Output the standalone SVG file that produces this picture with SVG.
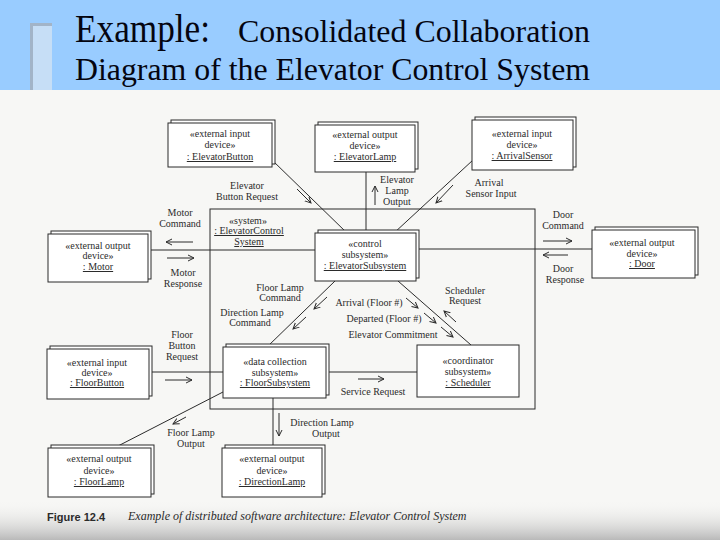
<svg xmlns="http://www.w3.org/2000/svg" width="720" height="540" viewBox="0 0 720 540">
<defs>
<style>
.box{fill:#fff;stroke:#2b2b2b;stroke-width:1}
.ln{stroke:#2b2b2b;stroke-width:1;fill:none}
.ar{stroke:#2b2b2b;stroke-width:1;fill:none;marker-end:url(#ah)}
.t{font-family:"Liberation Serif","Times New Roman",serif;font-size:10px;fill:#2b2b2b;text-anchor:middle}
.u{text-decoration:underline}
.title{font-family:"Liberation Serif","Times New Roman",serif;fill:#050510}
</style>
<marker id="ah" markerWidth="8" markerHeight="8" refX="6" refY="4" orient="auto" markerUnits="userSpaceOnUse">
<path d="M0,1 L6,4 L0,7" fill="none" stroke="#2b2b2b" stroke-width="1"/>
</marker>
<linearGradient id="bot" x1="0" y1="0" x2="0" y2="1">
<stop offset="0" stop-color="#f6f6f4" stop-opacity="0"/>
<stop offset="1" stop-color="#b9b9b9"/>
</linearGradient>
</defs>

<!-- page -->
<rect x="0" y="0" width="720" height="540" fill="#f7f7f5"/>
<rect x="0" y="500" width="720" height="40" fill="url(#bot)"/>

<!-- header -->
<g id="header">
<rect x="0" y="0" width="720" height="90" fill="#99ccff"/>
<rect x="30" y="23" width="22" height="67" fill="#c6def6"/>
<path d="M31.5,90 V24.5 H52" fill="none" stroke="#a2b4c8" stroke-width="3"/>
<text class="title" x="75" y="42" font-size="40" textLength="135" lengthAdjust="spacingAndGlyphs">Example:</text>
<text class="title" x="238" y="42" font-size="31" textLength="352" lengthAdjust="spacingAndGlyphs">Consolidated Collaboration</text>
<text class="title" x="75" y="80" font-size="31" textLength="515" lengthAdjust="spacingAndGlyphs">Diagram of the Elevator Control System</text>
</g>

<!-- system box -->
<g id="system">
<rect x="210" y="209" width="325" height="200" class="box" style="fill:none"/>
<text class="t" x="248" y="224">«system»</text>
<text class="t u" x="249" y="234">: ElevatorControl</text>
<text class="t u" x="249" y="245">System</text>
</g>

<!-- connectors -->
<g id="connectors">
<line class="ln" x1="272" y1="160" x2="347" y2="233"/>
<line class="ar" x1="297" y1="189" x2="311" y2="203"/>
<line class="ln" x1="366" y1="172" x2="366" y2="233"/>
<line class="ar" x1="375" y1="205" x2="375" y2="186"/>
<line class="ln" x1="473" y1="160" x2="394" y2="233"/>
<line class="ar" x1="453" y1="185" x2="436" y2="203"/>
<line class="ln" x1="148" y1="250" x2="315" y2="250"/>
<line class="ar" x1="193" y1="242" x2="166" y2="242"/>
<line class="ar" x1="167" y1="258" x2="194" y2="258"/>
<line class="ln" x1="416" y1="249" x2="592" y2="249"/>
<line class="ar" x1="543" y1="241" x2="572" y2="241"/>
<line class="ar" x1="568" y1="255" x2="543" y2="255"/>
<line class="ln" x1="335" y1="281" x2="267" y2="347"/>
<line class="ar" x1="327" y1="297" x2="314" y2="309"/>
<line class="ar" x1="306" y1="317" x2="293" y2="329"/>
<line class="ln" x1="398" y1="281" x2="471" y2="345"/>
<line class="ar" x1="406" y1="298" x2="418" y2="308"/>
<line class="ar" x1="424" y1="313" x2="436" y2="323"/>
<line class="ar" x1="441" y1="327" x2="453" y2="337"/>
<line class="ar" x1="456" y1="322" x2="444" y2="311"/>
<line class="ln" x1="150" y1="372" x2="223" y2="372"/>
<line class="ar" x1="165" y1="380" x2="192" y2="380"/>
<line class="ln" x1="326" y1="372" x2="417" y2="372"/>
<line class="ar" x1="358" y1="379" x2="384" y2="379"/>
<line class="ln" x1="223" y1="392" x2="118" y2="446"/>
<line class="ar" x1="186" y1="417" x2="173" y2="424"/>
<line class="ln" x1="273" y1="398" x2="273" y2="448"/>
<line class="ar" x1="279" y1="413" x2="279" y2="436"/>

<text class="t" x="247" y="189">Elevator</text>
<text class="t" x="247" y="200">Button Request</text>
<text class="t" x="397" y="183">Elevator</text>
<text class="t" x="397" y="194">Lamp</text>
<text class="t" x="397" y="205">Output</text>
<text class="t" x="489" y="186">Arrival</text>
<text class="t" x="491" y="197">Sensor Input</text>
<text class="t" x="180" y="216">Motor</text>
<text class="t" x="180" y="227">Command</text>
<text class="t" x="183" y="276">Motor</text>
<text class="t" x="183" y="287">Response</text>
<text class="t" x="563" y="218">Door</text>
<text class="t" x="563" y="229">Command</text>
<text class="t" x="563" y="272">Door</text>
<text class="t" x="565" y="283">Response</text>
<text class="t" x="280" y="291">Floor Lamp</text>
<text class="t" x="280" y="301">Command</text>
<text class="t" x="252" y="316">Direction Lamp</text>
<text class="t" x="250" y="326">Command</text>
<text class="t" x="369" y="306">Arrival (Floor #)</text>
<text class="t" x="384" y="322">Departed (Floor #)</text>
<text class="t" x="393" y="338">Elevator Commitment</text>
<text class="t" x="465" y="294">Scheduler</text>
<text class="t" x="465" y="304">Request</text>
<text class="t" x="182" y="338">Floor</text>
<text class="t" x="182" y="349">Button</text>
<text class="t" x="182" y="360">Request</text>
<text class="t" x="373" y="395">Service Request</text>
<text class="t" x="191" y="436">Floor Lamp</text>
<text class="t" x="191" y="447">Output</text>
<text class="t" x="322" y="426">Direction Lamp</text>
<text class="t" x="326" y="437">Output</text>
</g>

<!-- nodes -->
<g id="elevatorButton">
<rect class="box" x="171" y="120" width="104" height="44"/>
<rect class="box" x="168" y="123" width="104" height="44"/>
<text class="t" x="220" y="137">«external input</text>
<text class="t" x="220" y="148">device»</text>
<text class="t u" x="220" y="160">: ElevatorButton</text>
</g>
<g id="elevatorLamp">
<rect class="box" x="318" y="122" width="100" height="47"/>
<rect class="box" x="315" y="125" width="100" height="47"/>
<text class="t" x="365" y="138">«external output</text>
<text class="t" x="365" y="149">device»</text>
<text class="t u" x="365" y="160">: ElevatorLamp</text>
</g>
<g id="arrivalSensor">
<rect class="box" x="475" y="117" width="101" height="50"/>
<rect class="box" x="472" y="120" width="101" height="50"/>
<text class="t" x="522" y="137">«external input</text>
<text class="t" x="522" y="148">device»</text>
<text class="t u" x="522" y="159">: ArrivalSensor</text>
</g>
<g id="motor">
<rect class="box" x="51" y="231" width="100" height="48"/>
<rect class="box" x="48" y="234" width="100" height="48"/>
<text class="t" x="98" y="249">«external output</text>
<text class="t" x="98" y="259">device»</text>
<text class="t u" x="98" y="270">: Motor</text>
</g>
<g id="elevatorSubsystem">
<rect class="box" x="318" y="230" width="101" height="48"/>
<rect class="box" x="315" y="233" width="101" height="48"/>
<text class="t" x="365" y="247">«control</text>
<text class="t" x="365" y="258">subsystem»</text>
<text class="t u" x="365" y="269">: ElevatorSubsystem</text>
</g>
<g id="door">
<rect class="box" x="595" y="227" width="103" height="48"/>
<rect class="box" x="592" y="230" width="103" height="48"/>
<text class="t" x="642" y="246">«external output</text>
<text class="t" x="642" y="257">device»</text>
<text class="t u" x="642" y="267">: Door</text>
</g>
<g id="floorButton">
<rect class="box" x="50" y="346" width="102" height="50"/>
<rect class="box" x="47" y="349" width="102" height="50"/>
<text class="t" x="97" y="366">«external input</text>
<text class="t" x="97" y="376">device»</text>
<text class="t u" x="97" y="386">: FloorButton</text>
</g>
<g id="floorSubsystem">
<rect class="box" x="226" y="344" width="103" height="51"/>
<rect class="box" x="223" y="347" width="103" height="51"/>
<text class="t" x="275" y="365">«data collection</text>
<text class="t" x="275" y="376">subsystem»</text>
<text class="t u" x="275" y="386">: FloorSubsystem</text>
</g>
<g id="scheduler">
<rect class="box" x="417" y="345" width="102" height="52"/>
<text class="t" x="468" y="364">«coordinator</text>
<text class="t" x="468" y="375">subsystem»</text>
<text class="t u" x="468" y="386">: Scheduler</text>
</g>
<g id="floorLamp">
<rect class="box" x="51" y="445" width="103" height="49"/>
<rect class="box" x="48" y="448" width="103" height="49"/>
<text class="t" x="99" y="462">«external output</text>
<text class="t" x="99" y="474">device»</text>
<text class="t u" x="99" y="485">: FloorLamp</text>
</g>
<g id="directionLamp">
<rect class="box" x="225" y="445" width="100" height="49"/>
<rect class="box" x="222" y="448" width="100" height="49"/>
<text class="t" x="272" y="462">«external output</text>
<text class="t" x="272" y="474">device»</text>
<text class="t u" x="272" y="485">: DirectionLamp</text>
</g>

<!-- caption -->
<g id="caption">
<text x="47" y="521" font-family="'Liberation Sans',Arial,sans-serif" font-weight="bold" font-size="11" fill="#2b2b2b">Figure 12.4</text>
<text x="128" y="520" font-family="'Liberation Serif','Times New Roman',serif" font-style="italic" font-size="12" fill="#2b2b2b">Example of distributed software architecture: Elevator Control System</text>
</g>
</svg>
